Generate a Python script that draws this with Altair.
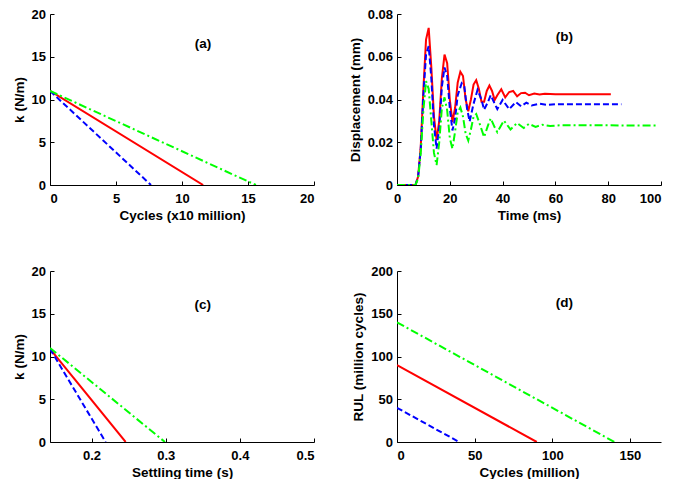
import altair as alt
import pandas as pd

FONT = "Liberation Sans"
RED, BLUE, GREEN = "#ff0000", "#0000ff", "#00ff00"
DASH_BLUE = [6, 3]
DASH_GREEN = [8, 3, 2, 3]

# ---------- panel (a): k vs cycles (x10 million)
a_red_x = [0, 11.6]
a_red_y = [11, 0]
a_blue_x = [0, 7.65]
a_blue_y = [11, 0]
a_green_x = [0, 15.6]
a_green_y = [11, 0]

# ---------- panel (b): displacement vs time
b_red_x = [0, 7, 8, 9, 10, 11, 12, 13, 14, 15, 16, 17, 18, 19, 20, 21, 22, 23, 24, 25, 26, 27,
           28, 29, 30, 31, 32, 33, 34, 35, 36, 37, 38, 39.5, 41, 42.5, 44, 45.5, 47, 48.5, 50,
           52, 54, 56, 60, 81]
b_red_y = [0, 0, 0.004, 0.018, 0.045, 0.068, 0.0735, 0.055, 0.032, 0.021, 0.030, 0.050, 0.061,
           0.057, 0.040, 0.0295, 0.036, 0.048, 0.053, 0.051, 0.040, 0.0345, 0.040, 0.047, 0.049,
           0.045, 0.039, 0.039, 0.044, 0.0465, 0.044, 0.0398, 0.042, 0.0448, 0.041, 0.0435,
           0.044, 0.0415, 0.043, 0.0432, 0.042, 0.0428, 0.0423, 0.0427, 0.0425, 0.0425]
b_blue_x = [0, 7, 8, 9, 10, 11, 12, 13, 14, 15, 16, 17, 18, 19, 20, 21, 22, 23, 24.5, 25.5, 26.5,
            27.5, 29, 30.5, 32, 33, 34.5, 35.5, 37, 38, 40, 42.5, 45, 47, 49, 51, 54, 57, 60, 85]
b_blue_y = [0, 0, 0.004, 0.017, 0.042, 0.061, 0.065, 0.050, 0.028, 0.017, 0.027, 0.046, 0.055,
            0.051, 0.036, 0.0255, 0.031, 0.042, 0.0476, 0.046, 0.036, 0.0297, 0.038, 0.0445,
            0.040, 0.0352, 0.039, 0.042, 0.038, 0.0355, 0.0398, 0.0355, 0.0388, 0.0368, 0.0385,
            0.0372, 0.038, 0.0375, 0.0378, 0.0378]
b_green_x = [0, 7, 8, 9, 10, 11, 12, 13, 14, 15, 16, 17, 18, 19, 20, 21, 22, 23, 24, 25, 26, 27,
             28, 29, 30, 31.5, 33, 34.5, 35.5, 37, 38, 40.5, 43, 45.5, 48, 50, 52.5, 55, 58, 62,
             98.4]
b_green_y = [0, 0, 0.003, 0.015, 0.035, 0.0486, 0.045, 0.030, 0.015, 0.0093, 0.020, 0.036,
             0.041, 0.035, 0.022, 0.017, 0.025, 0.034, 0.0363, 0.032, 0.024, 0.0208, 0.026,
             0.032, 0.0332, 0.028, 0.0224, 0.028, 0.0312, 0.027, 0.0247, 0.0301, 0.026, 0.029,
             0.0267, 0.0286, 0.0272, 0.0282, 0.0276, 0.028, 0.0278]

# ---------- panel (c): k vs settling time
c_red_x = [0.144, 0.246]
c_red_y = [10.9, 0]
c_blue_x = [0.144, 0.219]
c_blue_y = [10.9, 0]
c_green_x = [0.144, 0.299]
c_green_y = [11, 0]

# ---------- panel (d): RUL vs cycles
d_red_x = [0, 90]
d_red_y = [90, 0]
d_blue_x = [0, 40]
d_blue_y = [40, 0]
d_green_x = [0, 140]
d_green_y = [140, 0]

# panel labels (text, x, y in data units)
labels = ["(a)", "(b)", "(c)", "(d)"]
label_x = [11.6, 63.4, 0.35, 107.8]
label_y = [16.5, 0.0694, 16.0, 162.7]

W, H = 264, 171
TICK_FS, TITLE_FS = 13, 13.5


def df(xs, ys):
    return pd.DataFrame({"x": xs, "y": ys})


def panel(series, xdom, ydom, xvals, yvals, xtitle, ytitle, xfmt, yfmt, lab, lx, ly,
          x_align=None):
    xs = alt.Scale(domain=xdom, nice=False, zero=False)
    ys = alt.Scale(domain=ydom, nice=False, zero=False)
    xkw = {"labelAlign": x_align} if x_align else {}
    main_x = alt.Axis(values=xvals, format=xfmt, title=xtitle, ticks=False, orient="bottom",
                      labelPadding=7, titlePadding=3, **xkw)
    main_y = alt.Axis(values=yvals, format=yfmt, title=ytitle, ticks=False, orient="left",
                      labelPadding=4.5, titlePadding=5)
    tick_x = alt.Axis(values=xvals, labels=False, domain=False, title=None, ticks=True,
                      tickSize=4, offset=-4, orient="bottom")
    tick_y = alt.Axis(values=yvals, labels=False, domain=False, title=None, ticks=True,
                      tickSize=4, offset=-4, orient="left")
    layers = []
    for i, (xx, yy, col, dash) in enumerate(series):
        if i == 0:
            ax, ay = main_x, main_y
        elif i == 1:
            ax, ay = tick_x, tick_y
        else:
            ax, ay = None, None
        mark = alt.Chart(df(xx, yy)).mark_line(color=col, strokeWidth=2, clip=True,
                                               **({"strokeDash": dash} if dash else {}))
        layers.append(mark.encode(
            x=alt.X("x:Q", scale=xs, axis=ax),
            y=alt.Y("y:Q", scale=ys, axis=ay),
        ))
    txt = alt.Chart(pd.DataFrame({"t": [lab], "x": [lx], "y": [ly]})).mark_text(
        font=FONT, fontWeight="bold", fontSize=13.5, color="black"
    ).encode(x=alt.X("x:Q", scale=xs, axis=None), y=alt.Y("y:Q", scale=ys, axis=None), text="t:N")
    layers.append(txt)
    return alt.layer(*layers).resolve_axis(x="independent", y="independent").properties(
        width=W, height=H)


pa = panel([(a_red_x, a_red_y, RED, None), (a_blue_x, a_blue_y, BLUE, DASH_BLUE),
            (a_green_x, a_green_y, GREEN, DASH_GREEN)],
           [0, 20], [0, 20], [0, 5, 10, 15, 20], [0, 5, 10, 15, 20],
           "Cycles (x10 million)", "k (N/m)", "d", "d", labels[0], label_x[0], label_y[0])
pb = panel([(b_red_x, b_red_y, RED, None), (b_blue_x, b_blue_y, BLUE, DASH_BLUE),
            (b_green_x, b_green_y, GREEN, DASH_GREEN)],
           [0, 100], [0, 0.08], [0, 20, 40, 60, 80, 100], [0, 0.02, 0.04, 0.06, 0.08],
           "Time (ms)", "Displacement (mm)", "d", ".2~f", labels[1], label_x[1], label_y[1],
           x_align={"condition": {"test": "datum.value == 100", "value": "right"},
                    "value": "center"})
pc = panel([(c_red_x, c_red_y, RED, None), (c_blue_x, c_blue_y, BLUE, DASH_BLUE),
            (c_green_x, c_green_y, GREEN, DASH_GREEN)],
           [0.144, 0.5], [0, 20], [0.2, 0.3, 0.4, 0.5], [0, 5, 10, 15, 20],
           "Settling time (s)", "k (N/m)", ".1f", "d", labels[2], label_x[2], label_y[2])
pd_ = panel([(d_red_x, d_red_y, RED, None), (d_blue_x, d_blue_y, BLUE, DASH_BLUE),
             (d_green_x, d_green_y, GREEN, DASH_GREEN)],
            [0, 170], [0, 200], [0, 50, 100, 150], [0, 50, 100, 150, 200],
            "Cycles (million)", "RUL (million cycles)", "d", "d", labels[3], label_x[3], label_y[3])

top = alt.hconcat(pa, pb, spacing=33)
bottom = alt.hconcat(pc, pd_, spacing=36)
chart = alt.vconcat(top, bottom, spacing=43).configure_axis(
    labelFont=FONT, labelFontWeight="bold", labelFontSize=TICK_FS, labelColor="black",
    titleFont=FONT, titleFontWeight="bold", titleFontSize=TITLE_FS, titleColor="black",
    domainColor="black", tickColor="black", grid=False,
).configure_view(stroke=None).properties(
    background="white", padding={"left": 4, "top": 0, "right": 0, "bottom": 0})

chart.save("out.html", embed_options={"renderer": "svg", "actions": False})
